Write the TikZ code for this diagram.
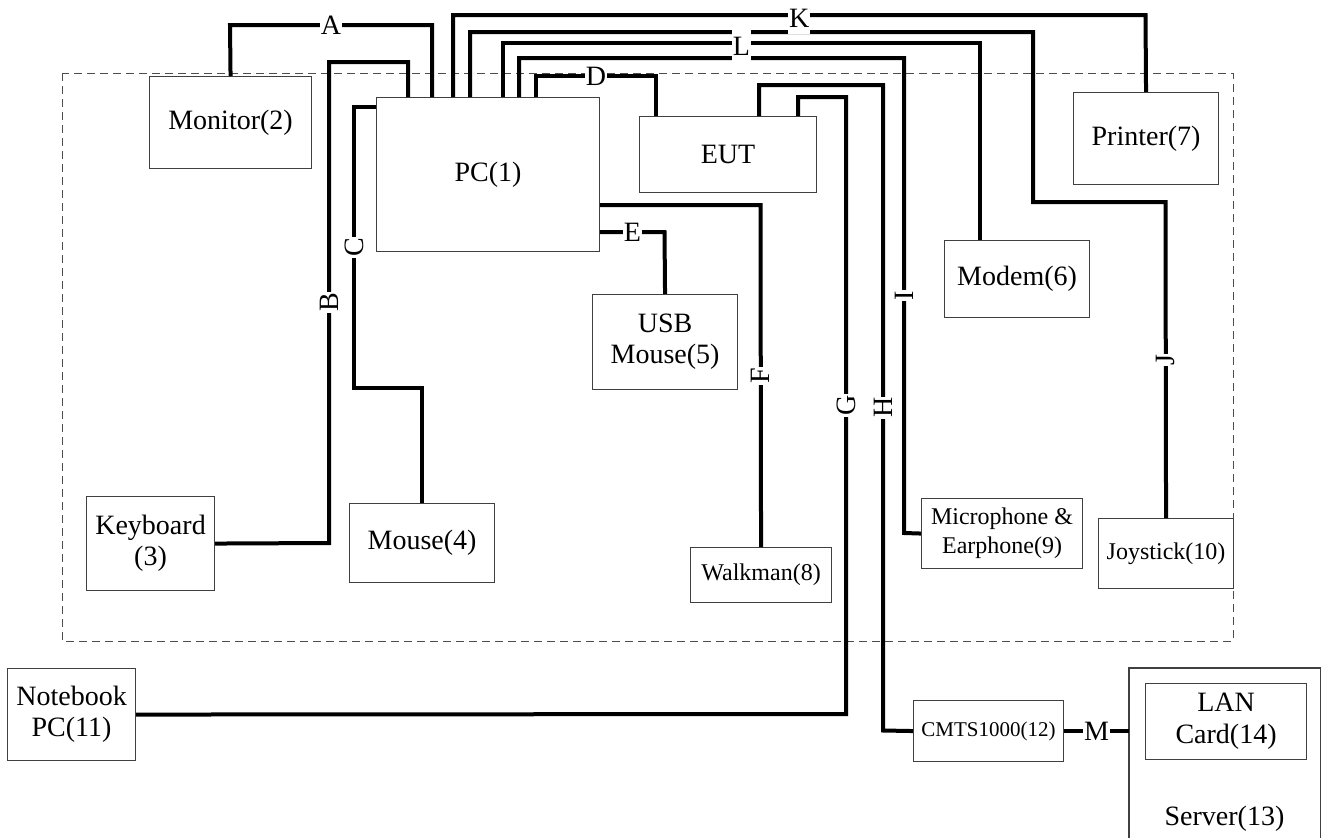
\documentclass[tikz,border=0pt]{standalone}
\usepackage{fontspec}
\setmainfont{Liberation Serif}
\begin{document}
\begin{tikzpicture}[x=1pt,y=-1pt,
  dev/.style={draw=black!75, line width=1.1pt, inner sep=0pt, anchor=north west, align=center, font=\fontsize{28}{31}\selectfont},
  boxline/.style={draw=black!75, line width=1.1pt},
  wire/.style={line width=4pt, line join=miter},
  lbl/.style={fill=white, inner xsep=1pt, inner ysep=0pt, minimum height=32pt, font=\fontsize{28}{30}\selectfont},
  vlbl/.style={lbl, rotate=90},
  zone/.style={draw=black!70, line width=1pt, dash pattern=on 8pt off 5pt}]
\useasboundingbox (0,0) rectangle (1326,838);
\draw[zone] (62,73) rectangle (1233,641);
% devices
\node[dev, minimum width=162pt, minimum height=92pt] (monitor) at (149,76) {Monitor(2)};
\node[dev, minimum width=223pt, minimum height=154pt] (pc) at (376,97) {PC(1)};
\node[dev, minimum width=177pt, minimum height=76pt] (eut) at (639,116) {EUT};
\node[dev, minimum width=145pt, minimum height=92pt] (printer) at (1073,92) {Printer(7)};
\node[dev, minimum width=145pt, minimum height=77pt] (modem) at (944,240) {Modem(6)};
\node[dev, minimum width=145pt, minimum height=95pt] (usb) at (592,294) {USB\\Mouse(5)};
\node[dev, minimum width=128pt, minimum height=94pt] (keyboard) at (86,496) {Keyboard\\(3)};
\node[dev, minimum width=145pt, minimum height=79pt] (mouse) at (349,503) {Mouse(4)};
\node[dev, minimum width=141pt, minimum height=55pt, font=\fontsize{24}{28}\selectfont] (walkman) at (690,547) {Walkman(8)};
\node[dev, minimum width=161pt, minimum height=70pt, font=\fontsize{24}{29}\selectfont] (mic) at (921,498) {Microphone \&\\Earphone(9)};
\node[dev, minimum width=135pt, minimum height=70pt, font=\fontsize{24}{29}\selectfont] (joy) at (1098,518) {Joystick(10)};
\node[dev, minimum width=128pt, minimum height=92pt] (notebook) at (7,668) {Notebook\\PC(11)};
\node[dev, minimum width=150pt, minimum height=61pt, font=\fontsize{21}{25}\selectfont] (cmts) at (913,700) {CMTS1000(12)};
\node[draw=none, inner sep=0pt, anchor=north west, minimum width=191pt, minimum height=170pt] (server) at (1129,668) {};
\draw[boxline] (server.south west) -- (server.north west) -- (server.north east) -- (server.south east);
\node[dev, minimum width=161pt, minimum height=76pt, font=\fontsize{28}{32}\selectfont] (lan) at (1145,683) {LAN\\Card(14)};
\node[font=\fontsize{28}{31}\selectfont] (srvtxt) at (1224.5,819) {Server(13)};
% connectors
\draw[wire] (monitor.north) -- (230,25) -- node[lbl]{A} (432,25) -- ([xshift=56pt]pc.north west);
\draw[wire] (keyboard.east) -- (329,543) -- node[vlbl]{B} (329,62) -| ([xshift=32pt]pc.north west);
\draw[wire] ([yshift=-10pt]pc.north west) -- (354,107) -- node[vlbl]{C} (354,388) -| (mouse.north);
\draw[wire] ([xshift=160pt]pc.north west) -- (536,76) -- node[lbl]{D} (656,76) -- ([xshift=17pt]eut.north west);
\draw[wire] ([yshift=-135pt]pc.north east) -- node[lbl]{E} (664.5,232) -- (usb.north);
\draw[wire] ([yshift=-108pt]pc.north east) -- (760.5,205) -- node[vlbl]{F} (walkman.north);
\draw[wire] ([xshift=159pt]eut.north west) -- (798,97) -- (846,97) -- node[vlbl]{G} (846,714) -- (notebook.east);
\draw[wire] ([xshift=120pt]eut.north west) -- (759,85) -- (883,85) -- node[vlbl]{H} (883,730.5) -- (cmts.west);
\draw[wire] ([xshift=143pt]pc.north west) -- (519,58) -- (904,58) -- node[vlbl]{I} (904,533) -- (mic.west);
\draw[wire] ([xshift=94pt]pc.north west) -- (470,32) -- (1033,32) -- (1033,202) -- (1165.5,202) -- node[vlbl]{J} (joy.north);
\draw[wire] ([xshift=127pt]pc.north west) -- (503,43) -- node[lbl,yshift=-3pt]{L} (980,43) -- ([xshift=36pt]modem.north west);
\draw[wire] ([xshift=77pt]pc.north west) -- (453,15) -- node[lbl,yshift=-3pt]{K} (1145.5,15) -- (printer.north);
\draw[wire] (cmts.east) -- node[lbl]{M} (cmts.east -| server.west);
\end{tikzpicture}
\end{document}
